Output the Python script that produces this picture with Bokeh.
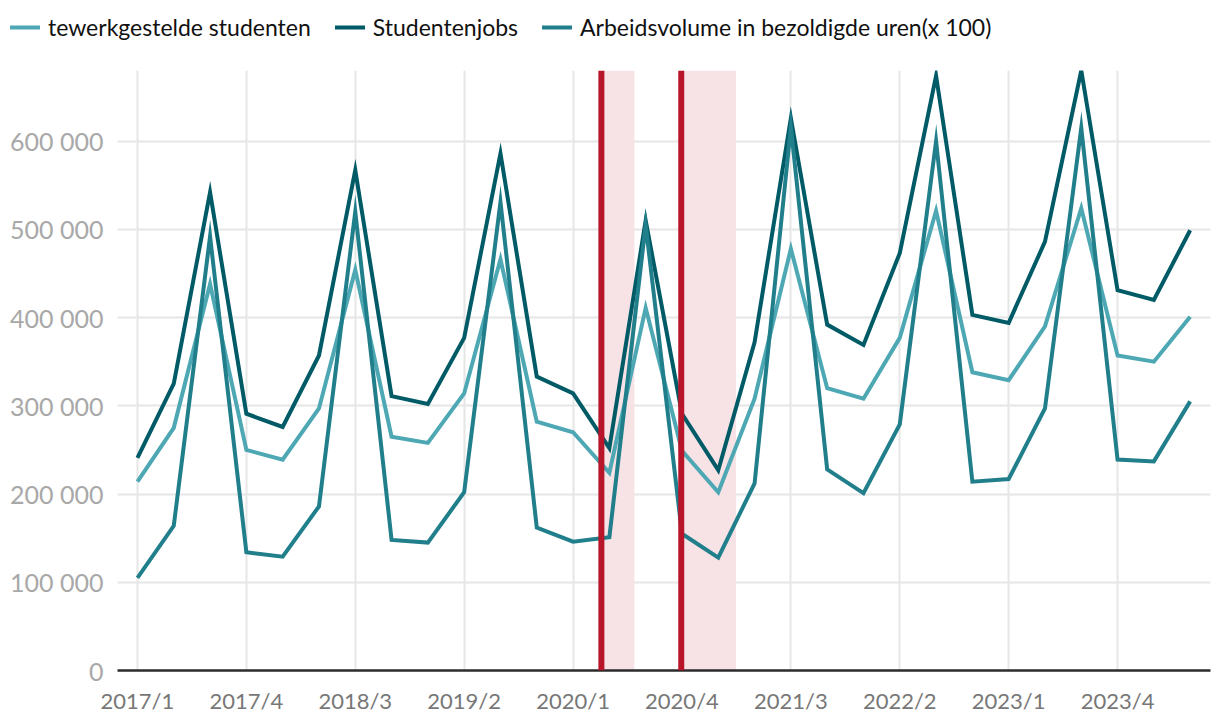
from bokeh.plotting import figure
from bokeh.layouts import column, row
from bokeh.models import (ColumnDataSource, Legend, LegendItem, FixedTicker,
                          CustomJSTickFormatter, Span, BoxAnnotation, Range1d)
from bokeh.embed import file_html
from bokeh.resources import INLINE

quarters = ["2017/1", "2017/2", "2017/3", "2017/4", "2018/1", "2018/2", "2018/3", "2018/4",
            "2019/1", "2019/2", "2019/3", "2019/4", "2020/1", "2020/2", "2020/3", "2020/4",
            "2021/1", "2021/2", "2021/3", "2021/4", "2022/1", "2022/2", "2022/3", "2022/4",
            "2023/1", "2023/2", "2023/3", "2023/4", "2024/1", "2024/2"]

tewerkgestelde = [214000, 275000, 438000, 250000, 239000, 297000, 454000, 265000,
                  258000, 314000, 466000, 282000, 270000, 224000, 411000, 249000,
                  202000, 308000, 478000, 320000, 308000, 377000, 521000, 338000,
                  329000, 390000, 524000, 357000, 350000, 401000]

studentenjobs = [241000, 325000, 542000, 291000, 276000, 357000, 567000, 311000,
                 302000, 377000, 586000, 333000, 314000, 252000, 510000, 291000,
                 227000, 372000, 626000, 392000, 369000, 473000, 674000, 403000,
                 394000, 486000, 680000, 431000, 420000, 499000]

arbeidsvolume = [105000, 164000, 492000, 134000, 129000, 186000, 520000, 148000,
                 145000, 202000, 531000, 162000, 146000, 151000, 505000, 155000,
                 128000, 212000, 616000, 228000, 201000, 279000, 600000, 214000,
                 217000, 297000, 615000, 239000, 237000, 305000]

series_names = ["tewerkgestelde studenten", "Studentenjobs", "Arbeidsvolume in bezoldigde uren(x 100)"]
series_colors = ["#4ea8b4", "#005b66", "#217f8c"]
series_keys = ["t", "s", "a"]

# covid periods (positions on the quarter axis)
red_lines = [12.78, 14.98]
shade_ends = [13.69, 16.49]

tick_positions = list(range(0, 30, 3))
y_ticks = [0, 100000, 200000, 300000, 400000, 500000, 600000]

FONT = "Lato"

x = list(range(len(quarters)))
src = ColumnDataSource(dict(x=x, q=quarters, t=tewerkgestelde, s=studentenjobs, a=arbeidsvolume))

# ---------- legend strip (its ranges keep the series out of view; only the legend shows) ----------
lg = figure(width=1220, height=70, output_backend="svg", toolbar_location=None,
            x_range=Range1d(0, 1), y_range=Range1d(0, 1),
            x_axis_location=None, y_axis_location=None,
            min_border=0, min_border_left=0, min_border_right=0, min_border_top=0, min_border_bottom=0)
lg.outline_line_color = None
lg.xgrid.visible = False
lg.ygrid.visible = False
legend_renderers = [lg.line("x", k, source=src, line_color=c, line_width=4, line_cap="round")
                    for k, c in zip(series_keys, series_colors)]
legend = Legend(items=[LegendItem(label=n, renderers=[r]) for n, r in zip(series_names, legend_renderers)],
                orientation="horizontal", location=(10, 29),
                label_text_font=FONT, label_text_font_size="23px", label_text_color="#111111",
                glyph_width=30, glyph_height=20, label_standoff=8, spacing=24,
                padding=0, margin=0, border_line_color=None, background_fill_alpha=0)
lg.add_layout(legend, "center")

# ---------- main chart ----------
p = figure(width=1220, height=652, output_backend="svg", toolbar_location=None,
           x_range=Range1d(-0.55, 29.56), y_range=Range1d(0, 680000),
           min_border_left=117, min_border_right=10, min_border_top=0, min_border_bottom=52)
p.outline_line_color = None
p.background_fill_color = "white"

for left, right in zip(red_lines, shade_ends):
    p.add_layout(BoxAnnotation(left=left, right=right, fill_color="#f7e3e5", fill_alpha=1.0,
                               line_alpha=0, level="underlay"))

for k, c in zip(series_keys, series_colors):
    p.line("x", k, source=src, line_color=c, line_width=4, line_join="miter")

for loc in red_lines:
    p.add_layout(Span(location=loc, dimension="height", line_color="#b8142a", line_width=6))

p.xaxis.ticker = FixedTicker(ticks=tick_positions)
p.xaxis.major_label_overrides = {i: quarters[i] for i in tick_positions}
p.xaxis.axis_line_color = "#2b2b2b"
p.xaxis.axis_line_width = 2.5
p.xaxis.major_tick_line_color = None
p.xaxis.minor_tick_line_color = None
p.xaxis.major_label_text_color = "#777777"
p.xaxis.major_label_text_font = FONT
p.xaxis.major_label_text_font_size = "22px"
p.xaxis.major_label_standoff = 10

p.yaxis.ticker = FixedTicker(ticks=y_ticks)
p.yaxis.formatter = CustomJSTickFormatter(code="""
    return Math.round(tick).toString().replace(/\\B(?=(\\d{3})+(?!\\d))/g, " ");
""")
p.yaxis.axis_line_color = None
p.yaxis.major_tick_line_color = None
p.yaxis.minor_tick_line_color = None
p.yaxis.major_label_text_color = "#a8a8a8"
p.yaxis.major_label_text_font = FONT
p.yaxis.major_label_text_font_size = "25px"
p.yaxis.major_label_standoff = 8

p.xgrid.grid_line_color = "#e6e6e6"
p.xgrid.grid_line_width = 2
p.ygrid.grid_line_color = "#e6e6e6"
p.ygrid.grid_line_width = 2

layout = column(row(lg), row(p), spacing=0)
open("out.html", "w").write(file_html(layout, INLINE))
